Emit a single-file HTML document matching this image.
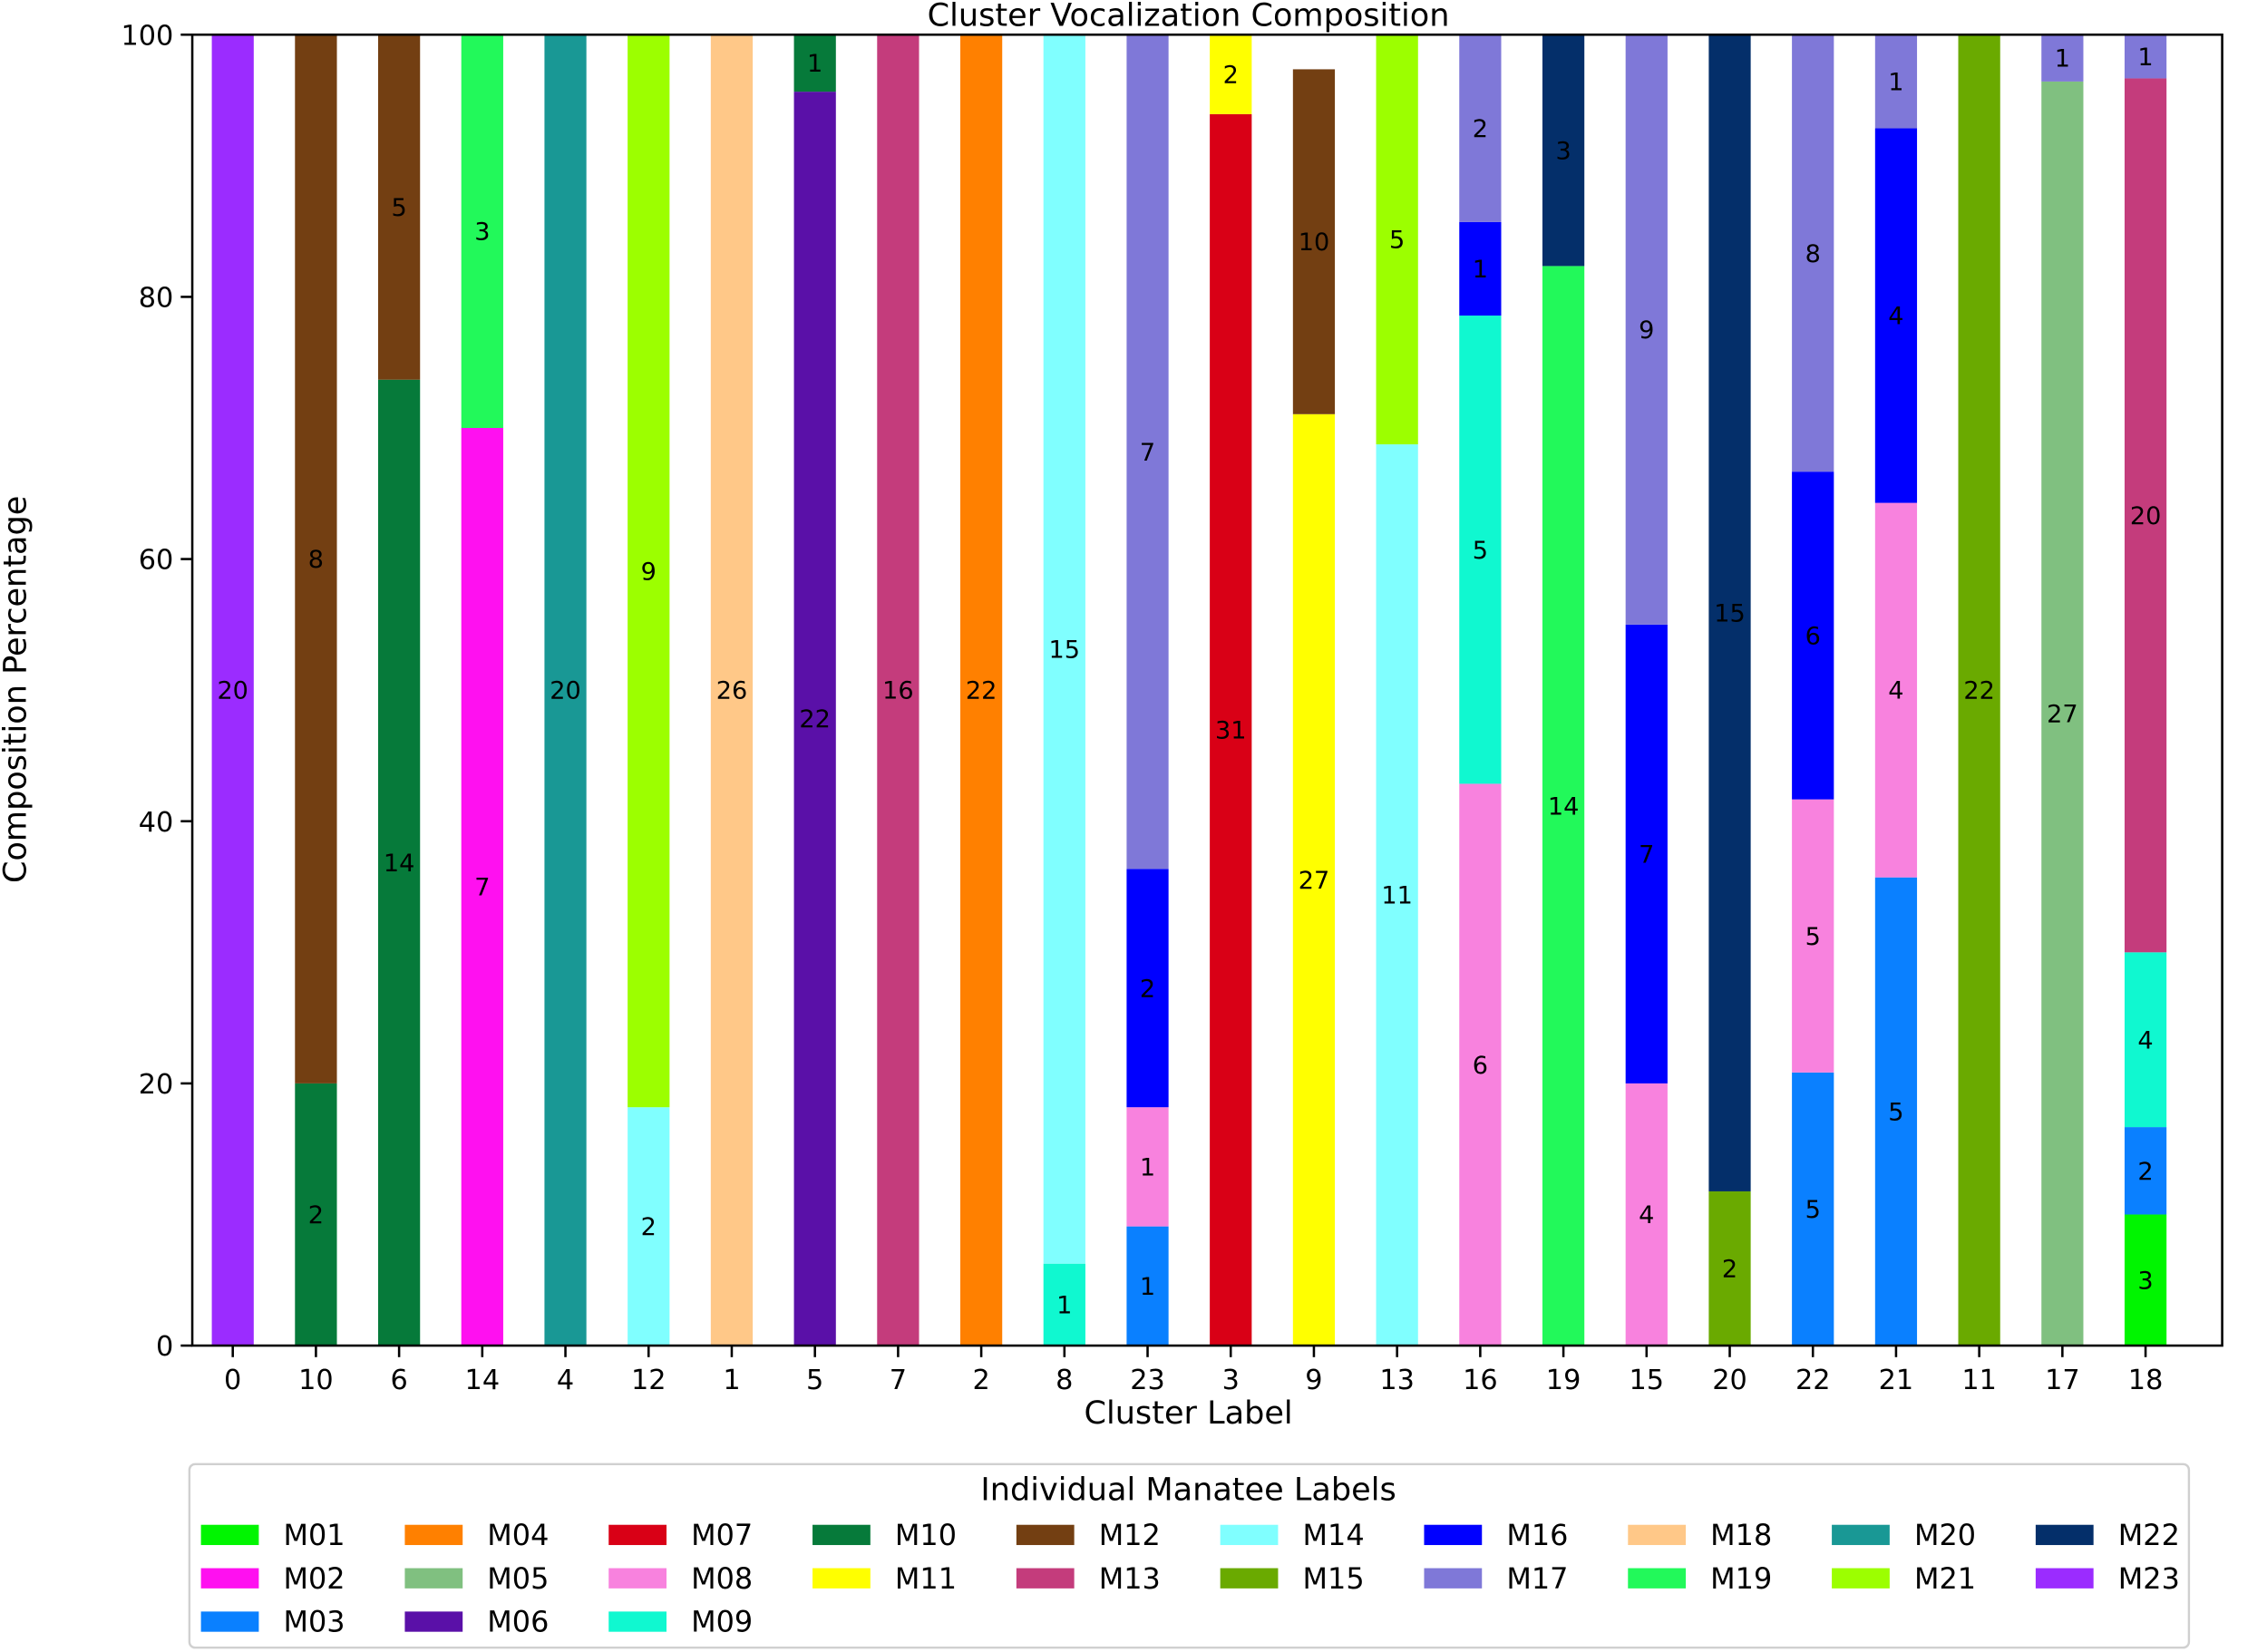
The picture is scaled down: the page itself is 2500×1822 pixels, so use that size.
<!DOCTYPE html>
<html><head><meta charset="utf-8"><style>
body{margin:0;background:#fff}
svg{display:block;font-family:"DejaVu Sans","Liberation Sans",sans-serif}
</style></head><body>
<svg id="chart" width="2500" height="1822" viewBox="0 0 1568 1143" preserveAspectRatio="none" xmlns="http://www.w3.org/2000/svg">
<g id="bars"></g>
<g id="axes"></g>
<g id="legend"></g>
</svg>
<script>
const categories=["0","10","6","14","4","12","1","5","7","2","8","23","3","9","13","16","19","15","20","22","21","11","17","18"];
const segManatees=[["M23"],["M10","M12"],["M10","M12"],["M02","M19"],["M20"],["M14","M21"],["M18"],["M06","M10"],["M13"],["M04"],["M09","M14"],["M03","M08","M16","M17"],["M07","M11"],["M11","M12",null],["M14","M21"],["M08","M09","M16","M17"],["M19","M22"],["M08","M16","M17"],["M15","M22"],["M03","M08","M16","M17"],["M03","M08","M16","M17"],["M15"],["M05","M17"],["M01","M03","M09","M13","M17"]];
const segCounts=[[20],[2,8],[14,5],[7,3],[20],[2,9],[26],[22,1],[16],[22],[1,15],[1,1,2,7],[31,2],[27,10,1],[11,5],[6,5,1,2],[14,3],[4,7,9],[2,15],[5,5,6,8],[5,4,4,1],[22],[27,1],[3,2,4,20,1]];
const legendLabels=["M01","M02","M03","M04","M05","M06","M07","M08","M09","M10","M11","M12","M13","M14","M15","M16","M17","M18","M19","M20","M21","M22","M23"];
const legendColors=["#00f500","#ff10f0","#0a80ff","#ff8000","#80c080","#5a10a8","#d90016","#f882de","#10f8d0","#067a3a","#ffff00","#733f12","#c43c7c","#80ffff","#6aaa00","#0000ff","#7f78d8","#ffc888","#22f95a","#199895","#9cff00","#042f6a","#9b2cff"];
const yTicks=[0,20,40,60,80,100];

const NS="http://www.w3.org/2000/svg";
const L=133,R=1537,T=24,B=931;
const y=v=>B-(B-T)*v/100;
const step=(1484-161)/(categories.length-1);
const x=i=>161+i*step;
const bw=29;
function mk(tag,attrs,parent,text){const e=document.createElementNS(NS,tag);for(const k in attrs)e.setAttribute(k,attrs[k]);if(text!==undefined)e.textContent=text;parent.appendChild(e);return e;}
const color=m=>m?legendColors[legendLabels.indexOf(m)]:"#ffffff";
const gb=document.getElementById('bars');
categories.forEach((c,i)=>{
  const tot=segCounts[i].reduce((a,b)=>a+b,0);
  let cum=0;
  segCounts[i].forEach((n,j)=>{
    const p0=cum/tot*100,p1=(cum+n)/tot*100;cum+=n;
    const r=mk('rect',{x:x(i)-bw/2,y:y(p1),width:bw,height:y(p0)-y(p1),fill:color(segManatees[i][j])},gb);
    
    
    if(segManatees[i][j]){
      const t=mk('text',{x:x(i),y:(y(p0)+y(p1))/2+6,'text-anchor':'middle','font-size':17,fill:'#000'},gb,String(n));
      
      
    }
  });
});
const ga=document.getElementById('axes');
const fr=mk('rect',{x:L,y:T,width:R-L,height:B-T,fill:'none',stroke:'#000','stroke-width':1.6},ga);

yTicks.forEach(v=>{
  mk('line',{x1:L-8,x2:L,y1:y(v),y2:y(v),stroke:'#000','stroke-width':1.6},ga);
  const t=mk('text',{x:L-13,y:y(v)+7,'text-anchor':'end','font-size':19},ga,String(v));
  
});
categories.forEach((c,i)=>{
  mk('line',{x1:x(i),x2:x(i),y1:B,y2:B+8,stroke:'#000','stroke-width':1.6},ga);
  const t=mk('text',{x:x(i),y:B+30,'text-anchor':'middle','font-size':19},ga,c);
  
});
let t=mk('text',{x:822,y:985,'text-anchor':'middle','font-size':22},ga,'Cluster Label');

t=mk('text',{x:18,y:477,'text-anchor':'middle','font-size':22,transform:'rotate(-90 18 477)'},ga,'Composition Percentage');

t=mk('text',{x:822,y:18,'text-anchor':'middle','font-size':22},ga,'Cluster Vocalization Composition');


const gl=document.getElementById('legend');
const lb=mk('rect',{x:131,y:1013,width:1383,height:127,rx:4,fill:'#fff',stroke:'#d0d0d0','stroke-width':1.5},gl);

t=mk('text',{x:822,y:1038,'text-anchor':'middle','font-size':22},gl,'Individual Manatee Labels');

const colStarts=[0,3,6,9,11,13,15,17,19,21];
legendLabels.forEach((m,k)=>{
  let col=0;for(let c=0;c<colStarts.length;c++)if(k>=colStarts[c])col=c;
  const row=k-colStarts[col];
  const lx=139+col*141,ly=1062+row*30;
  const g=mk('g',{},gl);
  
  mk('rect',{x:lx,y:ly-7,width:40,height:14,fill:legendColors[k]},g);
  mk('text',{x:lx+57,y:ly+7,'font-size':20},g,m);
});
</script>
</body></html>
